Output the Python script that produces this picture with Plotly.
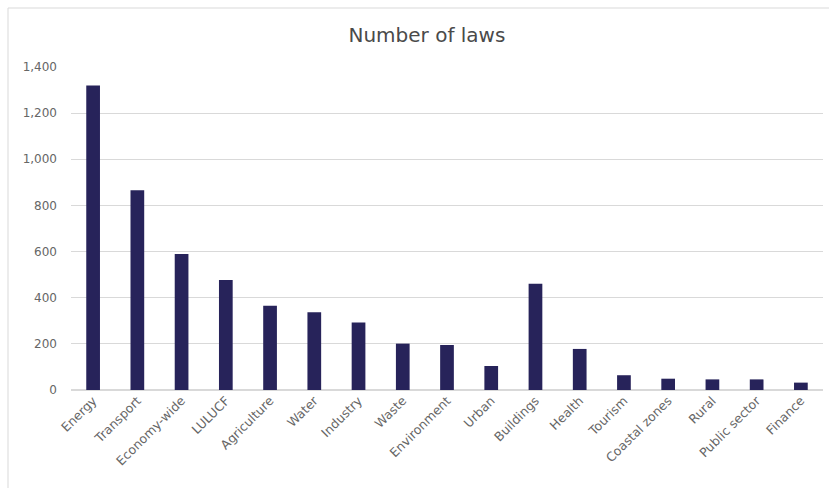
import plotly.graph_objects as go

categories = ["Energy", "Transport", "Economy-wide", "LULUCF", "Agriculture", "Water",
              "Industry", "Waste", "Environment", "Urban", "Buildings", "Health",
              "Tourism", "Coastal zones", "Rural", "Public sector", "Finance"]
laws = [1320, 866, 589, 477, 365, 337, 293, 201, 195, 104, 461, 178, 64, 49, 46, 46, 32]
y_ticks = [0, 200, 400, 600, 800, 1000, 1200, 1400]

W, H = 829, 488
L, R, T, B = 71, 6, 67, 98
pw, ph = W - L - R, H - T - B

def px(x):
    return (x - L) / pw

def py(y):
    return (H - B - y) / ph

FONT = "DejaVu Sans, sans-serif"

fig = go.Figure(go.Bar(
    x=categories, y=laws,
    marker=dict(color="#27235a", line=dict(width=0)),
))

fig.update_layout(
    width=W, height=H,
    margin=dict(l=L, r=R, t=T, b=B),
    paper_bgcolor="white", plot_bgcolor="white",
    bargap=0.69,
    showlegend=False,
    font=dict(family=FONT, color="#666666", size=12),
    title=dict(text="Number of laws", x=0.515, xanchor="center", y=1 - 35 / H, yanchor="middle",
               font=dict(size=20, color="#4a4a4a", family=FONT)),
    xaxis=dict(tickangle=-45, showgrid=False, showline=False, ticks="",
               tickfont=dict(size=12.5, color="#666666", family=FONT)),
    yaxis=dict(range=[0, 1400], tickvals=y_ticks, tickformat=",", showgrid=True,
               gridcolor="#d9d9d9", gridwidth=1, zeroline=True, zerolinecolor="#d9d9d9",
               showline=False, ticks="", ticklabelstandoff=13,
               tickfont=dict(size=12, color="#666666", family=FONT)),
    shapes=[dict(type="rect", xref="paper", yref="paper",
                 x0=px(8), x1=px(840), y0=py(500), y1=py(8),
                 line=dict(color="#d9d9d9", width=1), fillcolor="rgba(0,0,0,0)", layer="below")],
)

fig.write_html("out.html")
